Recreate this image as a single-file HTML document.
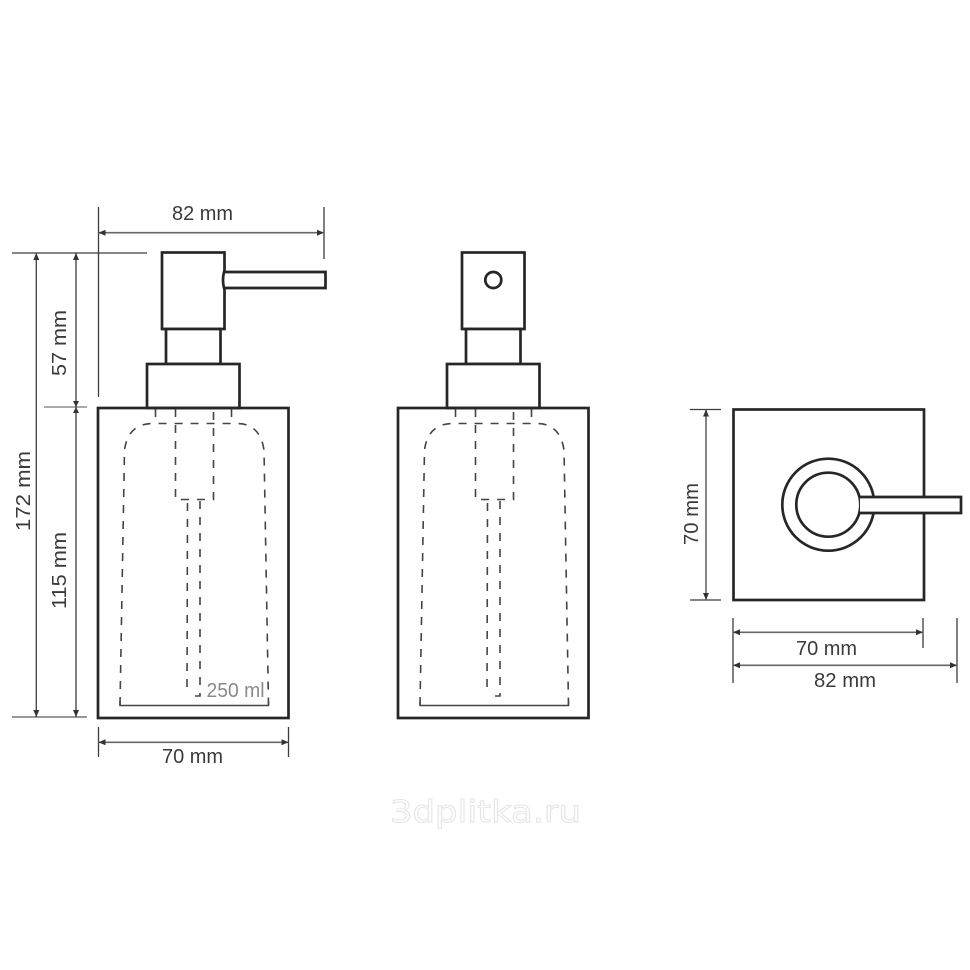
<!DOCTYPE html>
<html><head><meta charset="utf-8"><style>
html,body{margin:0;padding:0;background:#fff}
svg{display:block}
text{font-family:"Liberation Sans",sans-serif;font-size:20px;fill:#3a3a3a}
.b{fill:#fff;stroke:#262626;stroke-width:2.7;stroke-linejoin:miter}
.d{fill:none;stroke:#3c3c3c;stroke-width:1.3}
.a{fill:#333;stroke:none}
.k{fill:none;stroke:#444;stroke-width:1.6;stroke-dasharray:8 8}
.s{fill:none;stroke:#444;stroke-width:1.5}
</style></head><body>
<svg width="970" height="970" viewBox="0 0 970 970" xmlns="http://www.w3.org/2000/svg">
<defs>
<g id="disp">
<line class="k" x1="155.500" y1="409" x2="155.500" y2="423"/>
<line class="k" x1="231.500" y1="409" x2="231.500" y2="423"/>
<path class="k" d="M120 705 L124.500 450 Q128 424 152 423.500 L238 423.500 Q260 424 264 450 L268.500 705"/>
<path class="s" d="M120 701 V705.500 H268.500 V701"/>
<path class="k" d="M175.500 409 V499.500 H213.500 V409"/>
<path class="k" d="M187.500 503 L187 695"/>
<path class="k" d="M200 501 V696 H192"/>
<rect class="b" x="162" y="252.500" width="62.500" height="76.500"/>
<rect class="b" x="166" y="329" width="54.500" height="35"/>
<rect class="b" x="147" y="364" width="92.500" height="44"/>
<rect x="98" y="408" width="190.500" height="310" fill="none" stroke="#262626" stroke-width="2.700"/>
</g>
</defs>

<use href="#disp"/>
<use href="#disp" x="300"/>

<path class="b" d="M224 272 H325.500 V288 H224 Q222 280 224 272 Z"/>
<circle cx="493.300" cy="280" r="8" fill="#fff" stroke="#262626" stroke-width="2.700"/>

<g class="d">
<line x1="98.500" y1="207" x2="98.500" y2="397"/>
<line x1="324" y1="207" x2="324" y2="259"/>
<line x1="98.500" y1="232.700" x2="324" y2="232.700" stroke="#666" stroke-width="1.600"/>
<line x1="12" y1="253" x2="147" y2="253"/>
<line x1="44" y1="407" x2="87" y2="407" stroke="#777"/>
<line x1="12" y1="717" x2="87" y2="717" stroke="#777" stroke-width="1.600"/>
<line x1="36.300" y1="253" x2="36.300" y2="717"/>
<line x1="76" y1="253" x2="76" y2="717"/>
<line x1="98.500" y1="727" x2="98.500" y2="757"/>
<line x1="288.500" y1="727" x2="288.500" y2="757"/>
<line x1="98.500" y1="742.300" x2="288.500" y2="742.300" stroke="#666" stroke-width="1.600"/>
</g>
<g class="a">
<path d="M98.500 232.700l7-3v6z"/><path d="M324 232.700l-7-3v6z"/>
<path d="M36.300 253l-3 7h6z"/><path d="M36.300 717l-3-7h6z"/>
<path d="M76 253l-3 7h6z"/><path d="M76 717l-3-7h6z"/>
<path d="M76 407l-3-6h6z"/><path d="M76 407l-3 6h6z"/>
<path d="M98.500 742.300l7-3v6z"/><path d="M288.500 742.300l-7-3v6z"/>
</g>
<text x="172" y="220" textLength="61" lengthAdjust="spacingAndGlyphs">82 mm</text>
<text x="162" y="763" textLength="61" lengthAdjust="spacingAndGlyphs">70 mm</text>
<text transform="translate(30,531) rotate(-90)" textLength="80" lengthAdjust="spacingAndGlyphs">172 mm</text>
<text transform="translate(66,376) rotate(-90)" textLength="66" lengthAdjust="spacingAndGlyphs">57 mm</text>
<text transform="translate(66,609) rotate(-90)" textLength="77" lengthAdjust="spacingAndGlyphs">115 mm</text>
<text x="206.500" y="697" textLength="58" lengthAdjust="spacingAndGlyphs" style="fill:#8a8a8a;font-size:20px">250 ml</text>

<rect x="733.500" y="409.500" width="190.500" height="190.500" fill="#fff" stroke="#262626" stroke-width="2.700"/>
<circle cx="828.300" cy="504.700" r="46" fill="#fff" stroke="#262626" stroke-width="2.700"/>
<circle cx="828.300" cy="504.700" r="32" fill="#fff" stroke="#262626" stroke-width="2.700"/>
<path d="M860 497 H961 V513 H860" fill="#fff" stroke="#262626" stroke-width="2.700"/>
<g class="d">
<line x1="690" y1="409.500" x2="721" y2="409.500"/>
<line x1="690" y1="600" x2="721" y2="600"/>
<line x1="706" y1="409.500" x2="706" y2="600" stroke="#666" stroke-width="1.600"/>
<line x1="733" y1="618" x2="733" y2="683"/>
<line x1="923" y1="618" x2="923" y2="648"/>
<line x1="957" y1="618" x2="957" y2="683"/>
<line x1="733" y1="632.300" x2="923" y2="632.300" stroke="#666" stroke-width="1.600"/>
<line x1="733" y1="665.300" x2="957" y2="665.300" stroke="#666" stroke-width="1.600"/>
</g>
<g class="a">
<path d="M706 409.500l-3 7h6z"/><path d="M706 600l-3-7h6z"/>
<path d="M733 632.300l7-3v6z"/><path d="M923 632.300l-7-3v6z"/>
<path d="M733 665.300l7-3v6z"/><path d="M957 665.300l-7-3v6z"/>
</g>
<text transform="translate(698,545) rotate(-90)" textLength="62" lengthAdjust="spacingAndGlyphs">70 mm</text>
<text x="796" y="655" textLength="61" lengthAdjust="spacingAndGlyphs">70 mm</text>
<text x="814" y="687" textLength="62" lengthAdjust="spacingAndGlyphs">82 mm</text>

<text x="390" y="822" textLength="191" lengthAdjust="spacingAndGlyphs" style="font-family:'DejaVu Sans',sans-serif;font-size:30px;fill:#fff;stroke:#e6e6e6;stroke-width:1">3dplitka.ru</text>
</svg>
</body></html>
